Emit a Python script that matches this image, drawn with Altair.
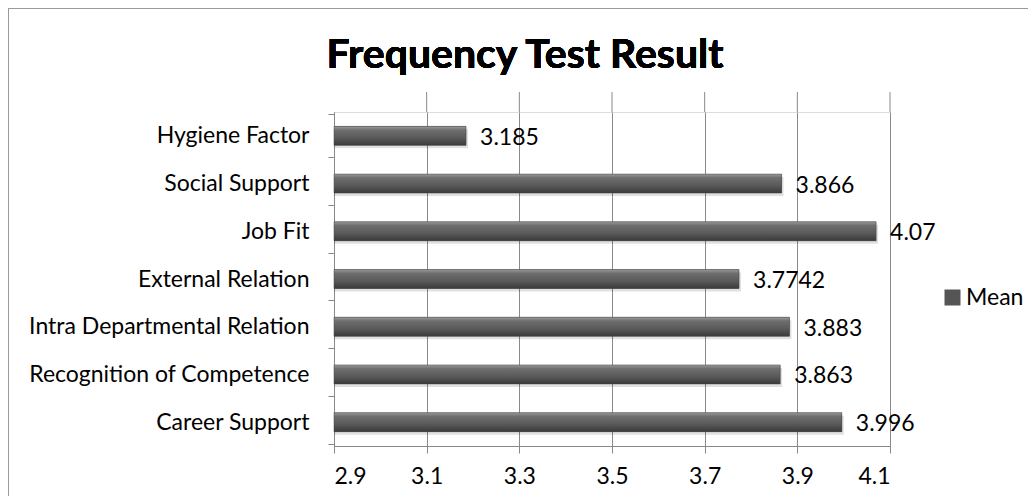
import altair as alt
import pandas as pd

categories = ["Hygiene Factor", "Social Support", "Job Fit", "External Relation",
              "Intra Departmental Relation", "Recognition of Competence", "Career Support"]
means = [3.185, 3.866, 4.07, 3.7742, 3.883, 3.863, 3.996]
labels = ["3.185", "3.866", "4.07", "3.7742", "3.883", "3.863", "3.996"]
x_ticks = [2.9, 3.1, 3.3, 3.5, 3.7, 3.9, 4.1]
series_name = "Mean"
chart_title = "Frequency Test Result"
axis_min = 2.9
axis_max = 4.1

df = pd.DataFrame({
    "Category": categories,
    "Value": means,
    "Label": labels,
    "Base": [axis_min] * len(categories),
    "Series": [series_name] * len(categories),
})
ticks_df = pd.DataFrame({"Tick": x_ticks[1:]})

W, H = 556, 334
FONT = "Lato"
FS = 23

xscale = alt.Scale(domain=[axis_min, axis_max], zero=False, nice=False)
yenc = alt.Y("Category:N", sort=categories, title=None,
             axis=alt.Axis(tickBand="extent", tickSize=6, labelPadding=19, labelLimit=0,
                           labelFontSize=FS, labelFont=FONT, labelColor="#000",
                           domainColor="#888", tickColor="#888", grid=False))

frame = alt.Chart(df).mark_rect(fillOpacity=0, stroke="#9a9a9a", strokeWidth=2).encode(
    x=alt.value(-326), x2=alt.value(W + 160), y=alt.value(-104), y2=alt.value(H + 120)
)

title_mark = alt.Chart(df).mark_text(
    text=chart_title, fontSize=41, font=FONT, fontWeight="bold", color="#000",
    align="center", baseline="alphabetic"
).encode(x=alt.value(191), y=alt.value(-44))

grid_ext = alt.Chart(ticks_df).mark_rule(color="#8a8a8a", strokeWidth=1).encode(
    x=alt.X("Tick:Q", scale=xscale), y=alt.value(-20), y2=alt.value(0)
)

base = alt.Chart(df)

legend_bars = base.mark_bar(size=19).encode(
    x=alt.X("Value:Q", scale=xscale, title=None,
            axis=alt.Axis(values=x_ticks, format=".1f", grid=True, gridColor="#8a8a8a",
                          gridOpacity=1, domainColor="#888", tickColor="#888", tickSize=7,
                          labelFontSize=FS, labelFont=FONT, labelColor="#000",
                          labelPadding=12)),
    x2="Base:Q",
    y=yenc,
    color=alt.Color("Series:N", scale=alt.Scale(range=["#555555"]),
                    legend=alt.Legend(title=None, orient="none", legendX=607, legendY=174,
                                      symbolType="square", symbolSize=256, labelOffset=2,
                                      labelFontSize=FS, labelFont=FONT, labelColor="#000",
                                      symbolStrokeWidth=0, padding=0)),
)

shadow = base.mark_bar(size=19, color="#000", opacity=0.12, yOffset=3, xOffset=2).encode(
    x=alt.X("Value:Q", scale=xscale), x2="Base:Q", y=alt.Y("Category:N", sort=categories)
)

grad = alt.Gradient(
    gradient="linear", x1=0, x2=0, y1=0, y2=1,
    stops=[alt.GradientStop(color="#9a9a9a", offset=0),
           alt.GradientStop(color="#6e6e6e", offset=0.2),
           alt.GradientStop(color="#5a5a5a", offset=0.6),
           alt.GradientStop(color="#3a3a3a", offset=1)],
)
bars = base.mark_bar(size=19, color=grad, stroke="#444", strokeWidth=0.5).encode(
    x=alt.X("Value:Q", scale=xscale), x2="Base:Q", y=alt.Y("Category:N", sort=categories)
)

text = base.mark_text(align="left", baseline="middle", dx=14, dy=2, fontSize=FS,
                      font=FONT, color="#000").encode(
    x=alt.X("Value:Q", scale=xscale), y=alt.Y("Category:N", sort=categories), text="Label:N"
)

chart = alt.layer(frame, title_mark, grid_ext, legend_bars, shadow, bars, text).properties(
    width=W, height=H,
    autosize=alt.AutoSizeParams(type="none"),
    padding={"left": 326, "top": 104, "right": 138, "bottom": 50},
).configure_view(stroke="transparent", strokeWidth=0).configure(background="white")

chart.save("out.html", embed_options={"renderer": "svg", "actions": False})
